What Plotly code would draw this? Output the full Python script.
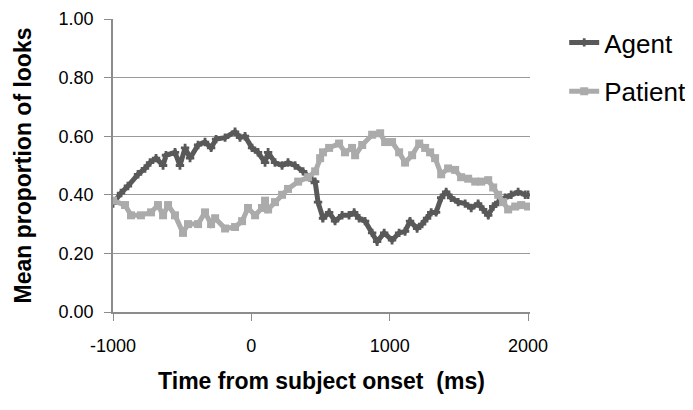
import plotly.graph_objects as go

# Agent (dark) - time in ms, mean proportion of looks
agent_t = [-1000, -942, -892, -819, -769, -732, -689, -638, -617, -552, -516, -479,
           -443, -385, -335, -291, -255, -190, -118, -82, -46, 5, 48, 99, 121, 171,
           222, 265, 316, 374, 439, 461, 482, 518, 562, 605, 656, 706, 743, 779, 822,
           873, 909, 960, 1017, 1068, 1111, 1147, 1198, 1234, 1270, 1300, 1335, 1372,
           1408, 1444, 1495, 1545, 1589, 1639, 1675, 1712, 1748, 1784, 1834, 1878,
           1928, 1979, 2000]
agent_y = [0.37, 0.406, 0.43, 0.47, 0.49, 0.51, 0.525, 0.50, 0.535, 0.545, 0.50, 0.56,
           0.525, 0.57, 0.58, 0.56, 0.59, 0.595, 0.615, 0.595, 0.60, 0.56, 0.545, 0.51,
           0.545, 0.51, 0.50, 0.51, 0.50, 0.48, 0.45, 0.445, 0.375, 0.32, 0.34, 0.31,
           0.33, 0.33, 0.34, 0.32, 0.31, 0.27, 0.24, 0.27, 0.245, 0.27, 0.275, 0.31,
           0.285, 0.30, 0.32, 0.34, 0.34, 0.39, 0.41, 0.39, 0.375, 0.37, 0.355, 0.37,
           0.35, 0.33, 0.36, 0.375, 0.39, 0.40, 0.41, 0.40, 0.40]

# Patient (light)
patient_t = [-1000, -913, -870, -798, -725, -675, -638, -602, -552, -494, -458, -385,
             -335, -291, -262, -190, -118, -67, -24, 27, 77, 99, 121, 171, 222, 265,
             338, 410, 461, 497, 518, 562, 634, 677, 728, 750, 801, 873, 931, 967, 1017,
             1068, 1111, 1162, 1213, 1256, 1292, 1328, 1372, 1422, 1473, 1516, 1567,
             1618, 1661, 1712, 1748, 1784, 1820, 1856, 1907, 1950, 2000]
patient_y = [0.38, 0.365, 0.33, 0.33, 0.34, 0.365, 0.33, 0.365, 0.33, 0.27, 0.30, 0.30,
             0.34, 0.30, 0.32, 0.285, 0.29, 0.31, 0.355, 0.33, 0.355, 0.38, 0.35, 0.375,
             0.40, 0.42, 0.445, 0.46, 0.48, 0.525, 0.545, 0.56, 0.575, 0.545, 0.56, 0.535,
             0.57, 0.605, 0.61, 0.58, 0.58, 0.545, 0.51, 0.535, 0.575, 0.56, 0.545, 0.525,
             0.47, 0.49, 0.485, 0.46, 0.455, 0.445, 0.445, 0.45, 0.425, 0.40, 0.375, 0.35,
             0.36, 0.365, 0.36]

y_ticks = [0, 0.2, 0.4, 0.6, 0.8, 1.0]
x_ticks = [-1000, 0, 1000, 2000]

fig = go.Figure()
fig.add_trace(go.Scatter(x=agent_t, y=agent_y, name="Agent", mode="lines+markers",
                         legendgroup="a",
                         line=dict(color="#595959", width=5),
                         marker=dict(symbol="cross", size=7, color="#595959")))
fig.add_trace(go.Scatter(x=patient_t, y=patient_y, name="Patient", mode="lines+markers",
                         legendgroup="p",
                         line=dict(color="#ababab", width=5),
                         marker=dict(symbol="square", size=8, color="#ababab")))

# page body has an 8px margin, margins below account for it
fig.update_layout(
    width=693, height=410,
    margin=dict(l=105, r=171, t=11, b=106, autoexpand=False),
    paper_bgcolor="white", plot_bgcolor="white",
    font=dict(family="Liberation Sans, Arial", color="black"),
    legend=dict(x=1.082, y=1.0, xanchor="left", yanchor="top", xref="paper",
                font=dict(size=26), tracegroupgap=12, bgcolor="rgba(0,0,0,0)"),
)
fig.update_xaxes(range=[-1000, 2014], tickvals=x_ticks, ticktext=[str(v) for v in x_ticks],
                 showgrid=False, zeroline=False, showline=True, linecolor="#8c8c8c",
                 linewidth=1.5, ticks="outside", ticklen=7, tickcolor="#8c8c8c",
                 tickfont=dict(size=18), ticklabelstandoff=10, automargin=False,
                 title=dict(text="<b>Time from subject onset  (ms)</b>",
                            font=dict(size=23), standoff=18))
fig.update_yaxes(range=[0, 1.0], tickvals=y_ticks, tickformat=".2f",
                 showgrid=True, gridcolor="#9a9a9a", gridwidth=1.2, zeroline=False,
                 showline=True, linecolor="#8c8c8c", linewidth=1.5, ticks="outside",
                 ticklen=7, tickcolor="#8c8c8c", tickfont=dict(size=18),
                 ticklabelstandoff=7, automargin=False,
                 title=dict(text="<b>Mean proportion of looks</b>",
                            font=dict(size=23), standoff=21))

fig.write_html("out.html")
